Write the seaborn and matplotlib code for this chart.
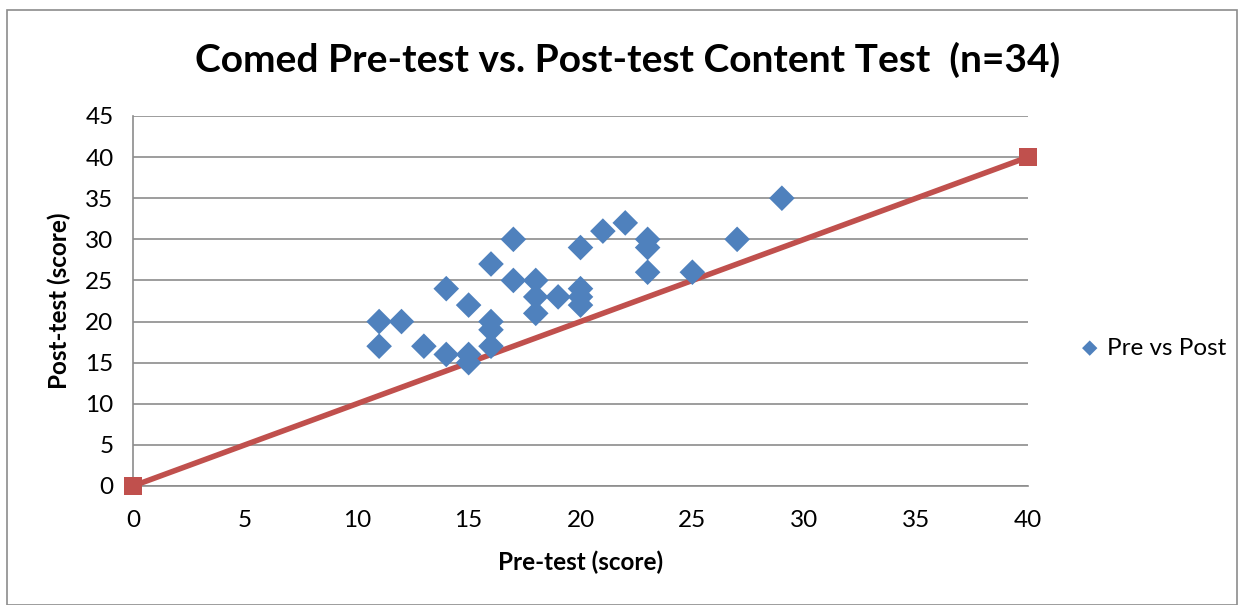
import numpy as np
import pandas as pd
import matplotlib
matplotlib.use("Agg")
import matplotlib.pyplot as plt
import seaborn as sns
from matplotlib.patches import Rectangle

# ── Data ────────────────────────────────────────────────────────────────────────
pre_scores  = [11, 11, 12, 13, 14, 14, 15, 15, 15, 16, 16, 16, 16, 17, 17, 18,
               18, 18, 19, 20, 20, 20, 20, 21, 22, 23, 23, 23, 25, 27, 29]
post_scores = [20, 17, 20, 17, 24, 16, 22, 16, 15, 27, 20, 19, 17, 30, 25, 25,
               23, 21, 23, 29, 24, 23, 22, 31, 32, 30, 29, 26, 26, 30, 35]
ref_x = [0, 40]
ref_y = [0, 40]
x_ticks = list(range(0, 41, 5))
y_ticks = list(range(0, 46, 5))

BLUE = "#4F81BD"
RED  = "#C0504D"
GREY = "#8c8c8c"

sns.set_style("white")
plt.rcParams["font.family"] = ["Lato", "DejaVu Sans"]
plt.rcParams["text.color"] = "black"
plt.rcParams["axes.labelcolor"] = "black"

df = pd.DataFrame({"Pre": pre_scores, "Post": post_scores})
ref = pd.DataFrame({"x": ref_x, "y": ref_y})

fig = plt.figure(figsize=(12.44, 6.05), dpi=100)
ax = fig.add_axes([133 / 1244, 119 / 605, 895 / 1244, 370 / 605])

# outer chart border
fig.patches.append(Rectangle((7 / 1244, 0), 1230 / 1244, 595 / 605,
                             transform=fig.transFigure, fill=False,
                             edgecolor=GREY, linewidth=1.2))

sns.lineplot(data=ref, x="x", y="y", ax=ax, color=RED, linewidth=4,
             marker="s", markersize=13, markeredgewidth=0, clip_on=False,
             zorder=3, legend=False)
sns.scatterplot(data=df, x="Pre", y="Post", ax=ax, color=BLUE, marker="D",
                s=170, edgecolor="none", clip_on=False, zorder=4,
                label="Pre vs Post")

ax.set_xlim(0, 40)
ax.set_ylim(0, 45)
ax.set_xticks(x_ticks)
ax.set_yticks(y_ticks)
ax.tick_params(axis="both", labelsize=17.5, length=0, colors="black")
ax.tick_params(axis="x", pad=17)
ax.tick_params(axis="y", pad=14)
ax.yaxis.grid(True, color=GREY, linewidth=1.2)
ax.xaxis.grid(False)
for side in ["top", "right"]:
    ax.spines[side].set_visible(False)
for side in ["left", "bottom"]:
    ax.spines[side].set_color(GREY)
    ax.spines[side].set_linewidth(1.2)

ax.set_xlabel("Pre-test (score)", fontsize=17.5, fontweight="bold", labelpad=14)
ax.set_ylabel("Post-test (score)", fontsize=17.5, fontweight="bold", labelpad=10)
fig.text(628 / 1244, 1 - 60 / 605, "Comed Pre-test vs. Post-test Content Test  (n=34)",
         ha="center", va="center", fontsize=28, fontweight="bold")

ax.legend(loc="center left", bbox_to_anchor=(1080 / 1244, 1 - 348 / 605),
          bbox_transform=fig.transFigure, frameon=False, borderpad=0,
          borderaxespad=0, handlelength=0.8, fontsize=17.5,
          handletextpad=0.3, markerscale=0.6)

fig.savefig("out.png", dpi=100)
